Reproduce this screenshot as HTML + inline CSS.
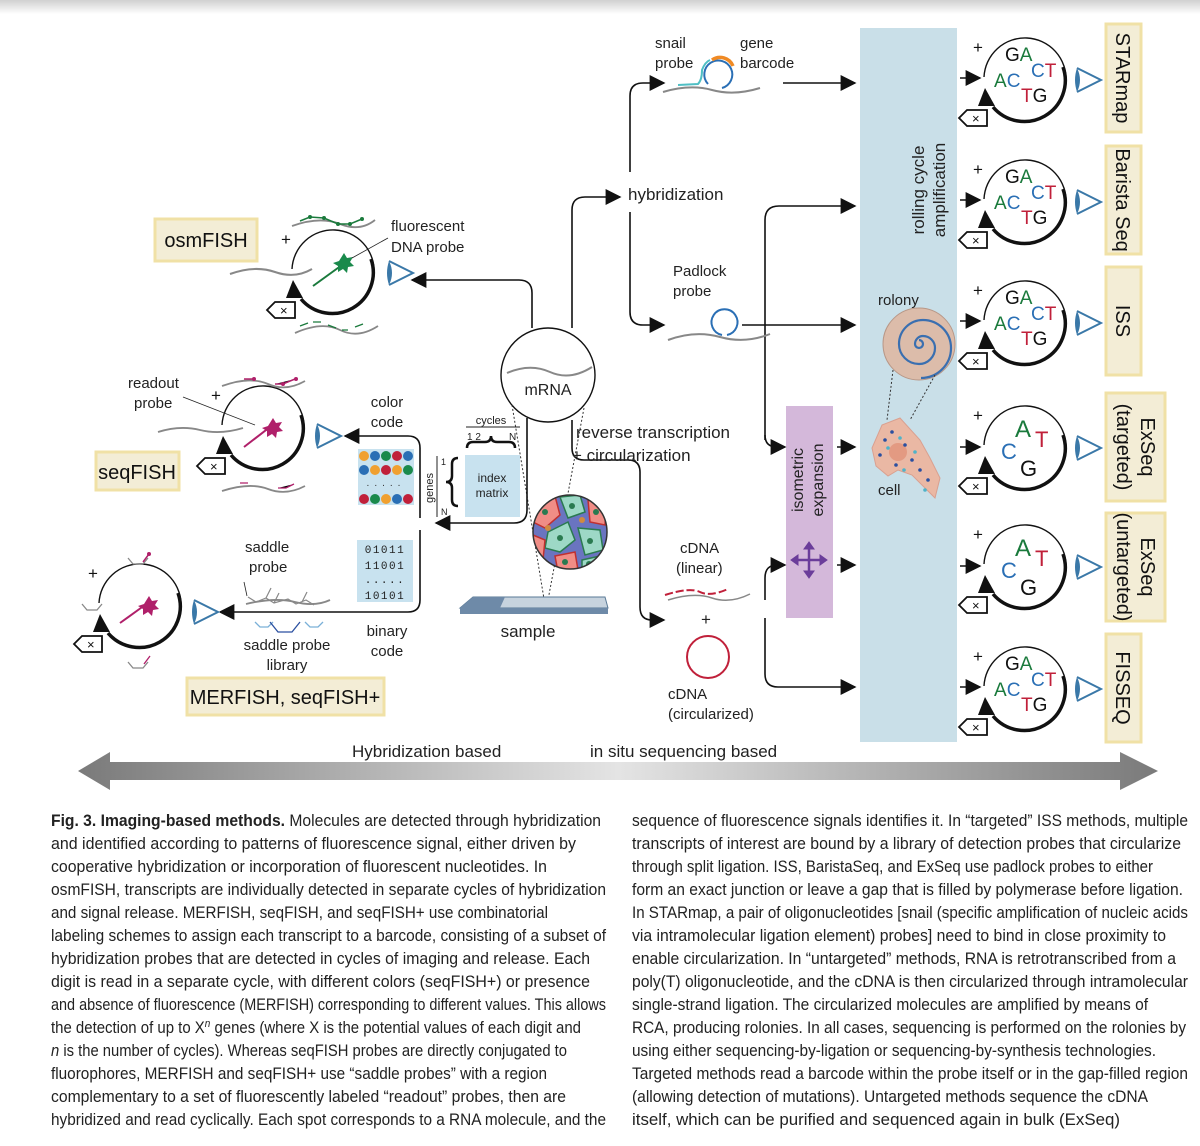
<!DOCTYPE html>
<html><head><meta charset="utf-8"><style>
html,body{margin:0;padding:0;background:#fff;}
svg{display:block;font-family:"Liberation Sans",sans-serif;}
</style></head><body>
<svg width="1200" height="1146" viewBox="0 0 1200 1146" xmlns="http://www.w3.org/2000/svg">
<defs>
<linearGradient id="top" x1="0" y1="0" x2="0" y2="1"><stop offset="0" stop-color="#d0d0d0"/><stop offset="1" stop-color="#fff"/></linearGradient>
<linearGradient id="barL" x1="0" y1="0" x2="1" y2="0"><stop offset="0" stop-color="#7a7a7a"/><stop offset="0.5" stop-color="#e4e4e4"/><stop offset="1" stop-color="#7a7a7a"/></linearGradient>
<marker id="ahb" viewBox="0 0 10 10" refX="9" refY="5" markerWidth="16" markerHeight="16" orient="auto" markerUnits="userSpaceOnUse"><path d="M0,0 L10,5 L0,10 z" fill="#111"/></marker>
<g id="cyc">
 <path d="M-41,-4 A41,41 0 0 1 41,0" fill="none" stroke="#111" stroke-width="1.4"/>
 <path d="M38,-14 A41,41 0 0 1 -32,26" fill="none" stroke="#111" stroke-width="3.5"/>
 <path d="M-40,7 L-47,25 L-30,25 z" fill="#111"/>
 <text x="-52" y="-28" font-size="17" fill="#111">+</text>
 <path d="M-66,37 L-58,29 L-38,29 L-38,45 L-58,45 z" fill="#fff" stroke="#111" stroke-width="1.8"/>
 <text x="-53" y="42" font-size="13" fill="#111">×</text>
</g>
<g id="eye">
 <path d="M0,-12 L24,0 L0,12" fill="none" stroke="#3a78a8" stroke-width="2"/>
 <path d="M0,-12 Q6,0 0,12 Q-4,0 0,-12z" fill="#3a78a8"/>
</g>
<g id="gact">
 <text x="-20" y="-20" font-size="19"><tspan fill="#111">G</tspan><tspan fill="#1a7a3c">A</tspan></text>
 <text x="6" y="-4" font-size="19"><tspan fill="#2a6fb5">C</tspan><tspan fill="#c0203a">T</tspan></text>
 <text x="-31" y="6" font-size="19"><tspan fill="#1a7a3c">A</tspan><tspan fill="#2a6fb5">C</tspan></text>
 <text x="-4" y="21" font-size="19"><tspan fill="#c0203a">T</tspan><tspan fill="#111">G</tspan></text>
</g>
<g id="acgt">
 <text x="-10" y="-12" font-size="24" fill="#1a7a3c">A</text>
 <text x="10" y="-2" font-size="22" fill="#c0203a">T</text>
 <text x="-24" y="10" font-size="22" fill="#2a6fb5">C</text>
 <text x="-5" y="27" font-size="22" fill="#111">G</text>
</g>
</defs>

<rect x="0" y="0" width="1200" height="14" fill="url(#top)"/>

<path d="M78,771 L110,752 L110,762 L1120,762 L1120,752 L1158,771 L1120,790 L1120,780 L110,780 L110,790 z" fill="url(#barL)"/>
<text x="352" y="757" font-size="17" fill="#222">Hybridization based</text>
<text x="590" y="757" font-size="17" fill="#222">in situ sequencing based</text>

<rect x="860" y="28" width="97" height="714" fill="#c9dfe8"/>
<text transform="translate(924,190) rotate(-90)" font-size="17" fill="#222" text-anchor="middle">rolling cycle</text>
<text transform="translate(945,190) rotate(-90)" font-size="17" fill="#222" text-anchor="middle">amplification</text>
<rect x="786" y="406" width="47" height="212" fill="#d4b8da"/>
<text transform="translate(803,480) rotate(-90)" font-size="16" fill="#222" text-anchor="middle">isometric</text>
<text transform="translate(823,480) rotate(-90)" font-size="16" fill="#222" text-anchor="middle">expansion</text>
<g stroke="#6b3d9a" stroke-width="2.5" fill="#6b3d9a">
 <line x1="795" y1="560" x2="823" y2="560"/><line x1="809" y1="546" x2="809" y2="574"/>
 <path d="M791,560 l7,-5 v10z M827,560 l-7,-5 v10z M809,542 l-5,7 h10z M809,578 l-5,-7 h10z" stroke-width="1"/>
</g>

<text x="878" y="305" font-size="15" fill="#222">rolony</text>
<circle cx="919" cy="344" r="36" fill="#dcbcaa" stroke="#b89888" stroke-width="1"/>
<path d="M919,344 m0,-4 a4,4 0 1 1 -4,4 a8,8 0 0 1 8,-8 a12,12 0 0 1 12,12 a16,16 0 0 1 -16,16 a20,20 0 0 1 -20,-20 a24,24 0 0 1 24,-24 a28,28 0 0 1 28,28 a30,30 0 0 1 -30,30" fill="none" stroke="#3a6fb0" stroke-width="2.2"/>
<path d="M893,370 L887,420 M935,375 L910,420" stroke="#333" stroke-dasharray="2,2" fill="none"/>
<path d="M882,425 L900,418 L920,440 L930,458 L940,478 L935,498 L925,488 L912,475 L898,470 L888,476 L876,466 L872,448 z" fill="#eab8a4" stroke="#d9a090"/>
<circle cx="898" cy="452" r="9" fill="#e39a82"/>
<g fill="#2a4fa0"><circle cx="885" cy="440" r="1.8"/><circle cx="892" cy="432" r="1.8"/><circle cx="905" cy="445" r="1.8"/><circle cx="912" cy="460" r="1.8"/><circle cx="880" cy="455" r="1.8"/><circle cx="920" cy="470" r="1.8"/><circle cx="928" cy="480" r="1.8"/><circle cx="896" cy="465" r="1.8"/></g>
<g fill="#4fb3c8"><circle cx="888" cy="448" r="1.8"/><circle cx="900" cy="438" r="1.8"/><circle cx="915" cy="452" r="1.8"/><circle cx="925" cy="490" r="1.8"/><circle cx="904" cy="470" r="1.8"/></g>
<text x="878" y="495" font-size="15" fill="#222">cell</text>

<g stroke="#111" stroke-width="1.5" fill="none" marker-end="url(#ahb)">
 <line x1="960" y1="78" x2="980" y2="78"/>
 <line x1="960" y1="200" x2="980" y2="200"/>
 <line x1="960" y1="321" x2="980" y2="321"/>
 <line x1="960" y1="447" x2="980" y2="447"/>
 <line x1="960" y1="566" x2="980" y2="566"/>
 <line x1="960" y1="687" x2="980" y2="687"/>
</g>
<use href="#cyc" x="1025" y="81"/><use href="#gact" x="1025" y="81"/><use href="#eye" x="1077" y="80"/>
<use href="#cyc" x="1025" y="203"/><use href="#gact" x="1025" y="203"/><use href="#eye" x="1077" y="202"/>
<use href="#cyc" x="1025" y="324"/><use href="#gact" x="1025" y="324"/><use href="#eye" x="1077" y="323"/>
<use href="#cyc" x="1025" y="449"/><use href="#acgt" x="1025" y="449"/><use href="#eye" x="1077" y="448"/>
<use href="#cyc" x="1025" y="568"/><use href="#acgt" x="1025" y="568"/><use href="#eye" x="1077" y="567"/>
<use href="#cyc" x="1025" y="690"/><use href="#gact" x="1025" y="690"/><use href="#eye" x="1077" y="689"/>

<g fill="#f3edd6" stroke="#f0e1a6" stroke-width="3">
 <rect x="1106" y="24" width="35" height="108"/>
 <rect x="1106" y="146" width="35" height="108"/>
 <rect x="1106" y="267" width="35" height="108"/>
 <rect x="1106" y="393" width="59" height="108"/>
 <rect x="1106" y="513" width="59" height="108"/>
 <rect x="1106" y="634" width="35" height="108"/>
</g>
<g font-size="20" fill="#111" text-anchor="middle">
 <text transform="translate(1116,78) rotate(90)">STARmap</text>
 <text transform="translate(1116,200) rotate(90)">Barista Seq</text>
 <text transform="translate(1116,321) rotate(90)">ISS</text>
 <text transform="translate(1141,447) rotate(90)">ExSeq</text>
 <text transform="translate(1117,447) rotate(90)">(targeted)</text>
 <text transform="translate(1141,567) rotate(90)">ExSeq</text>
 <text transform="translate(1117,567) rotate(90)">(untargeted)</text>
 <text transform="translate(1116,688) rotate(90)">FISSEQ</text>
</g>

<g stroke="#111" stroke-width="1.6" fill="none">
 <path d="M572,328 L572,210 Q572,197 585,197 L620,197" marker-end="url(#ahb)"/>
 <path d="M630,172 L630,96 Q630,83 643,83 L664,83" marker-end="url(#ahb)"/>
 <path d="M630,212 L630,312 Q630,325 643,325 L664,325" marker-end="url(#ahb)"/>
 <path d="M783,83 L855,83" marker-end="url(#ahb)"/>
 <path d="M742,325 L855,325" marker-end="url(#ahb)"/>
 <path d="M765,440 L765,220 Q765,206 779,206 L855,206" marker-end="url(#ahb)"/>
 <path d="M765,435 Q765,447 777,447 L785,447" marker-end="url(#ahb)"/>
 <path d="M837,447 L855,447" marker-end="url(#ahb)"/>
 <path d="M837,565 L855,565" marker-end="url(#ahb)"/>
 <path d="M765,600 L765,578 Q765,565 777,565 L785,565" marker-end="url(#ahb)"/>
 <path d="M765,618 L765,674 Q765,687 778,687 L855,687" marker-end="url(#ahb)"/>
 <path d="M572,420 L572,448 Q572,460 584,460 L628,460 Q640,460 640,472 L640,607 Q640,620 652,620 L664,620" marker-end="url(#ahb)"/>
</g>
<text x="628" y="200" font-size="17" fill="#222">hybridization</text>
<text x="655" y="48" font-size="15" fill="#222">snail</text>
<text x="655" y="68" font-size="15" fill="#222">probe</text>
<text x="740" y="48" font-size="15" fill="#222">gene</text>
<text x="740" y="68" font-size="15" fill="#222">barcode</text>
<path d="M663,92 Q690,84 712,90 T760,88" stroke="#888" stroke-width="2" fill="none"/>
<path d="M678,85 L698,84 Q702,80 702,70 Q705,62 710,60" stroke="#4fbfc4" stroke-width="2" fill="none"/>
<path d="M708,84 A14,14 0 1 1 722,88" stroke="#2a6fb5" stroke-width="2" fill="none"/>
<path d="M712,60 A14,14 0 0 1 733,66" stroke="#f08a24" stroke-width="3.5" fill="none"/>
<text x="673" y="276" font-size="15" fill="#222">Padlock</text>
<text x="673" y="296" font-size="15" fill="#222">probe</text>
<path d="M668,340 Q695,330 720,337 T770,334" stroke="#888" stroke-width="2" fill="none"/>
<path d="M722,335 A13,13 0 1 1 727,335" stroke="#2a6fb5" stroke-width="2" fill="none"/>
<text x="576" y="438" font-size="17" fill="#222">reverse transcription</text>
<text x="572" y="461" font-size="17" fill="#222">+ circularization</text>
<text x="680" y="553" font-size="15" fill="#222">cDNA</text>
<text x="676" y="573" font-size="15" fill="#222">(linear)</text>
<path d="M665,595 Q690,587 700,592 T728,589" stroke="#c0203a" stroke-width="2" stroke-dasharray="8,3" fill="none"/>
<path d="M668,600 Q694,592 712,598 T750,594" stroke="#888" stroke-width="1.5" fill="none"/>
<text x="701" y="625" font-size="17" fill="#222">+</text>
<circle cx="708" cy="657" r="21" fill="none" stroke="#c0203a" stroke-width="2"/>
<text x="668" y="699" font-size="15" fill="#222">cDNA</text>
<text x="668" y="719" font-size="15" fill="#222">(circularized)</text>

<circle cx="548" cy="375" r="47" fill="#fff" stroke="#111" stroke-width="1.4"/>
<path d="M507,373 Q530,363 550,372 T592,367" stroke="#888" stroke-width="2" fill="none"/>
<text x="548" y="395" font-size="16" fill="#222" text-anchor="middle">mRNA</text>
<path d="M512,405 L545,605 M584,408 L548,600" stroke="#333" stroke-dasharray="2,2" fill="none"/>
<!-- tissue -->
<clipPath id="tc"><circle cx="570" cy="532" r="37"/></clipPath>
<g clip-path="url(#tc)" stroke-width="1.5">
<rect x="530" y="492" width="80" height="80" fill="#6a74c0"/>
<path d="M533,500 L555,496 L560,515 L545,528 L533,522z" fill="#f08d86" stroke="#c03030"/>
<path d="M560,497 L580,495 L585,512 L568,518z" fill="#9dd8c6" stroke="#2a7a50"/>
<path d="M588,500 L606,505 L605,525 L590,522z" fill="#f08d86" stroke="#c03030"/>
<path d="M548,532 L568,522 L575,540 L560,552 L545,548z" fill="#9dd8c6" stroke="#2a7a50"/>
<path d="M578,528 L600,530 L603,550 L585,555z" fill="#9dd8c6" stroke="#2a7a50"/>
<path d="M533,535 L545,540 L543,560 L533,558z" fill="#f08d86" stroke="#c03030"/>
<path d="M555,556 L575,552 L578,570 L558,572z" fill="#f08d86" stroke="#c03030"/>
<path d="M582,560 L600,556 L598,572 L582,572z" fill="#9dd8c6" stroke="#2a7a50"/>
<g fill="#2a7a50" stroke="none"><circle cx="545" cy="512" r="3"/><circle cx="572" cy="506" r="3"/><circle cx="596" cy="512" r="3"/><circle cx="560" cy="538" r="3"/><circle cx="590" cy="541" r="3"/><circle cx="565" cy="562" r="3"/><circle cx="589" cy="564" r="3"/></g>
<g fill="#d08a40" stroke="none"><circle cx="582" cy="520" r="3"/><circle cx="548" cy="528" r="3"/></g>
</g>
<circle cx="570" cy="532" r="37" fill="none" stroke="#333" stroke-width="1.5"/>
<path d="M473,597 L605,597 L608,608 L460,608 z" fill="#c7d3de" stroke="#5a7a96"/>
<path d="M473,597 L505,597 L500,608 L460,608 z" fill="#6e8aa8"/>
<rect x="460" y="608" width="148" height="6" fill="#6e8aa8"/>
<text x="528" y="637" font-size="17" fill="#222" text-anchor="middle">sample</text>

<g stroke="#111" stroke-width="1.6" fill="none">
 <path d="M532,328 L532,293 Q532,280 519,280 L412,280" marker-end="url(#ahb)"/>
 <path d="M527,418 L527,510 Q527,523 514,523 L436,523" marker-end="url(#ahb)"/>
 <path d="M420,518 L420,448 Q420,436 408,436 L345,436" marker-end="url(#ahb)"/>
 <path d="M420,530 L420,600 Q420,612 408,612 L220,612" marker-end="url(#ahb)"/>
</g>
<text x="387" y="407" font-size="15" fill="#222" text-anchor="middle">color</text>
<text x="387" y="427" font-size="15" fill="#222" text-anchor="middle">code</text>
<text x="387" y="636" font-size="15" fill="#222" text-anchor="middle">binary</text>
<text x="387" y="656" font-size="15" fill="#222" text-anchor="middle">code</text>
<rect x="358" y="449" width="56" height="56" fill="#c8e2ef"/>
<g>
<circle cx="364" cy="456" r="5" fill="#f0a030"/><circle cx="375" cy="456" r="5" fill="#2a6fb5"/><circle cx="386" cy="456" r="5" fill="#1a8a4c"/><circle cx="397" cy="456" r="5" fill="#c0203a"/><circle cx="408" cy="456" r="5" fill="#2a6fb5"/>
<circle cx="364" cy="470" r="5" fill="#2a6fb5"/><circle cx="375" cy="470" r="5" fill="#f0a030"/><circle cx="386" cy="470" r="5" fill="#c0203a"/><circle cx="397" cy="470" r="5" fill="#f0a030"/><circle cx="408" cy="470" r="5" fill="#1a8a4c"/>
<circle cx="364" cy="499" r="5" fill="#c0203a"/><circle cx="375" cy="499" r="5" fill="#1a8a4c"/><circle cx="386" cy="499" r="5" fill="#f0a030"/><circle cx="397" cy="499" r="5" fill="#2a6fb5"/><circle cx="408" cy="499" r="5" fill="#c0203a"/>
<text x="386" y="486" font-size="10" text-anchor="middle" fill="#333" letter-spacing="5">.....</text>
</g>
<rect x="357" y="540" width="56" height="62" fill="#c8e2ef"/>
<g font-size="11" fill="#222" font-family="Liberation Mono, monospace" text-anchor="middle">
<text x="385" y="553" letter-spacing="1.5">01011</text><text x="385" y="569" letter-spacing="1.5">11001</text><text x="385" y="583" letter-spacing="1.5">.....</text><text x="385" y="599" letter-spacing="1.5">10101</text>
</g>
<rect x="465" y="455" width="55" height="62" fill="#c8e2ef"/>
<text x="492" y="482" font-size="12" fill="#222" text-anchor="middle">index</text>
<text x="492" y="497" font-size="12" fill="#222" text-anchor="middle">matrix</text>
<text x="491" y="424" font-size="11" fill="#222" text-anchor="middle">cycles</text>
<line x1="466" y1="427" x2="520" y2="427" stroke="#222"/>
<text x="467" y="440" font-size="10" fill="#222">1 2</text><text x="509" y="440" font-size="10" fill="#222">N</text>
<path d="M467,448 q0,-6 6,-6 h12 q6,0 6,-6 q0,6 6,6 h12 q6,0 6,6" fill="none" stroke="#111" stroke-width="2.5"/>
<text transform="translate(433,488) rotate(-90)" font-size="11" fill="#222" text-anchor="middle">genes</text>
<line x1="437" y1="456" x2="437" y2="517" stroke="#222"/>
<text x="441" y="465" font-size="9" fill="#222">1</text><text x="441" y="515" font-size="9" fill="#222">N</text>
<path d="M458,458 q-6,0 -6,6 v12 q0,6 -6,6 q6,0 6,6 v12 q0,6 6,6" fill="none" stroke="#111" stroke-width="2.5"/>

<!-- osmFISH -->
<rect x="155" y="219" width="102" height="42" fill="#f3edd6" stroke="#f0e1a6" stroke-width="3"/>
<text x="206" y="247" font-size="20" fill="#111" text-anchor="middle">osmFISH</text>
<use href="#cyc" x="333" y="273"/>
<path d="M230,274 Q255,265 275,272 T312,269" stroke="#888" stroke-width="2" fill="none"/>
<line x1="313" y1="286" x2="342" y2="265" stroke="#1a7a3c" stroke-width="2"/>
<path d="M344,253 l3,5 6,-1 -3,5 4,4 -6,1 -1,6 -4,-4 -5,3 0,-6 -5,-3 6,-2 z" fill="#1a8a4c"/>
<line x1="352" y1="258" x2="388" y2="238" stroke="#222" stroke-width="0.8"/>
<text x="391" y="231" font-size="15" fill="#222">fluorescent</text>
<text x="391" y="252" font-size="15" fill="#222">DNA probe</text>
<path d="M292,226 Q320,216 340,224 T375,220" stroke="#888" stroke-width="1.8" fill="none"/>
<path d="M300,221 L310,217 L324,218 L338,224 L350,224 L362,219" stroke="#1a7a3c" stroke-width="1.5" fill="none"/>
<g fill="#1a7a3c"><circle cx="310" cy="217" r="2"/><circle cx="324" cy="218" r="2"/><circle cx="338" cy="224" r="2"/><circle cx="350" cy="224" r="2"/><circle cx="362" cy="219" r="2"/></g>
<path d="M295,333 Q322,321 340,330 T378,326" stroke="#888" stroke-width="1.8" fill="none"/>
<path d="M300,326 l8,-3 M313,322 h8 M328,325 l8,3 M342,330 h6 M355,327 l8,-3" stroke="#1a7a3c" stroke-width="1.3"/>
<use href="#eye" x="389" y="273"/>

<!-- seqFISH -->
<rect x="96" y="452" width="83" height="38" fill="#f3edd6" stroke="#f0e1a6" stroke-width="3"/>
<text x="137" y="479" font-size="20" fill="#111" text-anchor="middle">seqFISH</text>
<use href="#cyc" x="263" y="429"/>
<text x="128" y="388" font-size="15" fill="#222">readout</text>
<text x="134" y="408" font-size="15" fill="#222">probe</text>
<line x1="183" y1="397" x2="255" y2="425" stroke="#222" stroke-width="0.8"/>
<path d="M158,432 Q180,425 200,430 T243,428" stroke="#888" stroke-width="1.8" fill="none"/>
<line x1="244" y1="447" x2="270" y2="427" stroke="#b0206a" stroke-width="2"/>
<path d="M273,418 l3,5 6,-1 -3,5 4,4 -6,1 -1,6 -4,-4 -5,3 0,-6 -5,-3 6,-2 z" fill="#b0206a"/>
<path d="M222,386 Q250,376 268,384 T305,381" stroke="#888" stroke-width="1.8" fill="none"/>
<path d="M244,379 h10 M275,384 h8 l12,-5" stroke="#b0206a" stroke-width="1.5"/>
<circle cx="254" cy="379" r="2" fill="#b0206a"/><circle cx="283" cy="384" r="2" fill="#b0206a"/><circle cx="296" cy="379" r="2" fill="#b0206a"/>
<path d="M222,491 Q250,482 268,489 T305,486" stroke="#888" stroke-width="1.8" fill="none"/>
<path d="M240,483 h8 M278,488 h8 l8,-4" stroke="#b0206a" stroke-width="1.3"/>
<use href="#eye" x="317" y="436"/>

<!-- MERFISH -->
<rect x="187" y="678" width="197" height="37" fill="#f3edd6" stroke="#f0e1a6" stroke-width="3"/>
<text x="285" y="704" font-size="20" fill="#111" text-anchor="middle">MERFISH, seqFISH+</text>
<use href="#cyc" x="140" y="607"/>
<line x1="120" y1="623" x2="145" y2="605" stroke="#b0206a" stroke-width="2"/>
<path d="M149,596 l3,5 6,-1 -3,5 4,4 -6,1 -1,6 -4,-4 -5,3 0,-6 -5,-3 6,-2 z" fill="#b0206a"/>
<path d="M128,558 l5,6 h10 l5,-6" stroke="#888" stroke-width="1.3" fill="none"/>
<path d="M143,562 l6,-8" stroke="#b0206a" stroke-width="1.5"/><circle cx="149" cy="554" r="2" fill="#b0206a"/>
<path d="M82,604 l5,6 h10 l5,-6" stroke="#888" stroke-width="1.3" fill="none"/>
<path d="M128,662 l5,6 h10 l5,-6" stroke="#888" stroke-width="1.3" fill="none"/>
<path d="M144,664 l6,-8" stroke="#b0206a" stroke-width="1.3"/>
<use href="#eye" x="194" y="612"/>
<text x="245" y="552" font-size="15" fill="#222">saddle</text>
<text x="249" y="572" font-size="15" fill="#222">probe</text>
<line x1="244" y1="582" x2="247" y2="596" stroke="#222" stroke-width="0.8"/>
<path d="M246,604 Q275,597 295,602 T330,600" stroke="#888" stroke-width="1.8" fill="none"/>
<path d="M248,597 l8,5 10,-4 l8,5 14,-4 8,5 10,-4 8,5 M266,598 l5,-10 M274,603 l5,-10 M302,602 l5,-10" stroke="#888" stroke-width="1.2" fill="none"/>
<path d="M255,622 l5,5 h8 l5,-5 M305,622 l5,5 h8 l5,-5" stroke="#7ab0d8" stroke-width="1.3" fill="none"/>
<path d="M270,622 l8,10 h14 l8,-10" stroke="#2a4fa0" stroke-width="1.3" fill="none"/>
<text x="287" y="650" font-size="15" fill="#222" text-anchor="middle">saddle probe</text>
<text x="287" y="670" font-size="15" fill="#222" text-anchor="middle">library</text>

<!-- caption -->
<g font-size="16.5" fill="#222">
<text x="51" y="826" textLength="550" lengthAdjust="spacingAndGlyphs"><tspan font-weight="bold">Fig. 3. Imaging-based methods.</tspan> Molecules are detected through hybridization</text>
<text x="51" y="849" textLength="525" lengthAdjust="spacingAndGlyphs">and identified according to patterns of fluorescence signal, either driven by</text>
<text x="51" y="872" textLength="496" lengthAdjust="spacingAndGlyphs">cooperative hybridization or incorporation of fluorescent nucleotides. In</text>
<text x="51" y="895" textLength="555" lengthAdjust="spacingAndGlyphs">osmFISH, transcripts are individually detected in separate cycles of hybridization</text>
<text x="51" y="918" textLength="497" lengthAdjust="spacingAndGlyphs">and signal release. MERFISH, seqFISH, and seqFISH+ use combinatorial</text>
<text x="51" y="941" textLength="555" lengthAdjust="spacingAndGlyphs">labeling schemes to assign each transcript to a barcode, consisting of a subset of</text>
<text x="51" y="964" textLength="539" lengthAdjust="spacingAndGlyphs">hybridization probes that are detected in cycles of imaging and release. Each</text>
<text x="51" y="987" textLength="539" lengthAdjust="spacingAndGlyphs">digit is read in a separate cycle, with different colors (seqFISH+) or presence</text>
<text x="51" y="1010" textLength="555" lengthAdjust="spacingAndGlyphs">and absence of fluorescence (MERFISH) corresponding to different values. This allows</text>
<text x="51" y="1033" textLength="530" lengthAdjust="spacingAndGlyphs">the detection of up to X<tspan font-style="italic" font-size="11" dy="-6">n</tspan><tspan dy="6"> genes (where X is the potential values of each digit and</tspan></text>
<text x="51" y="1056" textLength="516" lengthAdjust="spacingAndGlyphs"><tspan font-style="italic">n</tspan> is the number of cycles). Whereas seqFISH probes are directly conjugated to</text>
<text x="51" y="1079" textLength="496" lengthAdjust="spacingAndGlyphs">fluorophores, MERFISH and seqFISH+ use “saddle probes” with a region</text>
<text x="51" y="1102" textLength="515" lengthAdjust="spacingAndGlyphs">complementary to a set of fluorescently labeled “readout” probes, then are</text>
<text x="51" y="1125" textLength="555" lengthAdjust="spacingAndGlyphs">hybridized and read cyclically. Each spot corresponds to a RNA molecule, and the</text>

<text x="632" y="826" textLength="556" lengthAdjust="spacingAndGlyphs">sequence of fluorescence signals identifies it. In “targeted” ISS methods, multiple</text>
<text x="632" y="849" textLength="549" lengthAdjust="spacingAndGlyphs">transcripts of interest are bound by a library of detection probes that circularize</text>
<text x="632" y="872" textLength="521" lengthAdjust="spacingAndGlyphs">through split ligation. ISS, BaristaSeq, and ExSeq use padlock probes to either</text>
<text x="632" y="895" textLength="551" lengthAdjust="spacingAndGlyphs">form an exact junction or leave a gap that is filled by polymerase before ligation.</text>
<text x="632" y="918" textLength="556" lengthAdjust="spacingAndGlyphs">In STARmap, a pair of oligonucleotides [snail (specific amplification of nucleic acids</text>
<text x="632" y="941" textLength="534" lengthAdjust="spacingAndGlyphs">via intramolecular ligation element) probes] need to bind in close proximity to</text>
<text x="632" y="964" textLength="544" lengthAdjust="spacingAndGlyphs">enable circularization. In “untargeted” methods, RNA is retrotranscribed from a</text>
<text x="632" y="987" textLength="556" lengthAdjust="spacingAndGlyphs">poly(T) oligonucleotide, and the cDNA is then circularized through intramolecular</text>
<text x="632" y="1010" textLength="516" lengthAdjust="spacingAndGlyphs">single-strand ligation. The circularized molecules are amplified by means of</text>
<text x="632" y="1033" textLength="554" lengthAdjust="spacingAndGlyphs">RCA, producing rolonies. In all cases, sequencing is performed on the rolonies by</text>
<text x="632" y="1056" textLength="524" lengthAdjust="spacingAndGlyphs">using either sequencing-by-ligation or sequencing-by-synthesis technologies.</text>
<text x="632" y="1079" textLength="556" lengthAdjust="spacingAndGlyphs">Targeted methods read a barcode within the probe itself or in the gap-filled region</text>
<text x="632" y="1102" textLength="516" lengthAdjust="spacingAndGlyphs">(allowing detection of mutations). Untargeted methods sequence the cDNA</text>
<text x="632" y="1125" textLength="488" lengthAdjust="spacingAndGlyphs">itself, which can be purified and sequenced again in bulk (ExSeq)</text>
</g>
</svg>
</body></html>
